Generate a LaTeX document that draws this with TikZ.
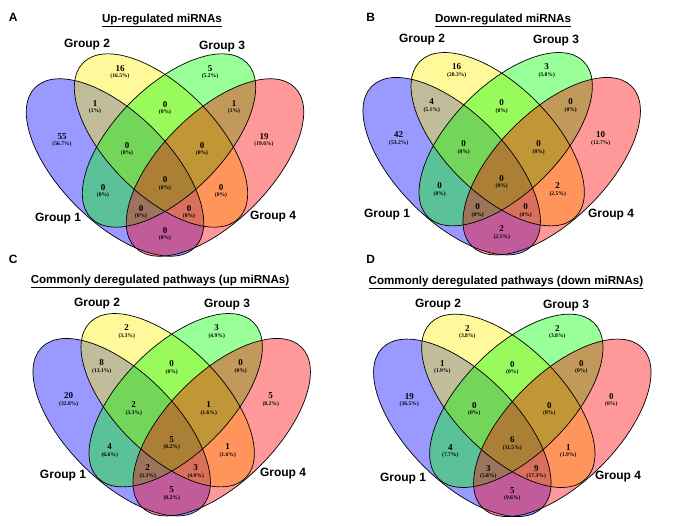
\documentclass[tikz,border=0pt]{standalone}
\usepackage{fontspec}
\setmainfont{Liberation Serif}
\newfontfamily\lsans{Liberation Sans}
\newcommand\pcfont{\fontsize{5.6}{6.5}\selectfont}
\newcommand\vennpanel[4]{%
\begin{scope}[shift={(#2,#3)}]
  \path[ell,fill=blue,  shift={(-50,-44.5)}, rotate=-45] (0,0) ellipse[x radius=113,y radius=54.5];
  \path[ell,fill=yellow,shift={(-4,-71.5)},  rotate=-45] (0,0) ellipse[x radius=110,y radius=54];
  \path[ell,fill=green, shift={(4,-71.5)},   rotate=45]  (0,0) ellipse[x radius=110,y radius=54];
  \path[ell,fill=red,   shift={(50,-44.5)},  rotate=45]  (0,0) ellipse[x radius=113,y radius=54.5];
  \path[edge,shift={(-50,-44.5)}, rotate=-45] (0,0) ellipse[x radius=113,y radius=54.5];
  \path[edge,shift={(-4,-71.5)},  rotate=-45] (0,0) ellipse[x radius=110,y radius=54];
  \path[edge,shift={(4,-71.5)},   rotate=45]  (0,0) ellipse[x radius=110,y radius=54];
  \path[edge,shift={(50,-44.5)},  rotate=45]  (0,0) ellipse[x radius=113,y radius=54.5];
  \coordinate (#1r1) at (-103,-72);
  \coordinate (#1r2) at (-45,-140);
  \coordinate (#1r3) at (45,-140);
  \coordinate (#1r4) at (99,-72);
  \coordinate (#1r5) at (-70,-105);
  \coordinate (#1r6) at (0,-104);
  \coordinate (#1r7) at (69,-105);
  \coordinate (#1r8) at (-38,-63);
  \coordinate (#1r9) at (37,-63);
  \coordinate (#1r10) at (0,-28.5);
  \coordinate (#1r11) at (-62,-21);
  \coordinate (#1r12) at (56,-21);
  \coordinate (#1r13) at (-24,0);
  \coordinate (#1r14) at (24,0);
  \coordinate (#1r15) at (0,22);
  \foreach \r/\c/\p in {#4} {\node[num] (#1\r) at (#1r\r) {\c\\{\pcfont(\p\%)}};}
\end{scope}}
\begin{document}
\begin{tikzpicture}[x=1pt,y=-1pt,
  ell/.style={fill opacity=0.4},
  edge/.style={draw=black, line width=0.7pt},
  num/.style={align=center, inner sep=0pt, font=\fontsize{9}{6.5}\selectfont\bfseries},
  grp/.style={font=\lsans\bfseries\fontsize{12}{12}\selectfont, inner sep=0pt, anchor=base},
  ttl/.style={font=\lsans\bfseries\fontsize{11.6}{12}\selectfont, inner sep=0pt, anchor=base},
  plet/.style={font=\lsans\bfseries\fontsize{12}{12}\selectfont, inner sep=0pt, anchor=base}]
\fill[white] (0,0) rectangle (700,525);
\useasboundingbox (0,0) rectangle (700,525);

% Panel A
\node[plet] (LA) at (13.3,21.3) {A};
\node[ttl] (TA) at (162,22.3) {\underline{Up-regulated miRNAs}};
\vennpanel{A}{165}{212}{1/55/56.7,2/16/16.5,3/5/5.2,4/19/19.6,5/1/1,6/0/0,7/1/1,8/0/0,9/0/0,10/0/0,11/0/0,12/0/0,13/0/0,14/0/0,15/0/0}
\node[grp] (A-g2) at (87,47.5) {Group 2};
\node[grp] (A-g3) at (222,49.5) {Group 3};
\node[grp] (A-g1) at (58,221.5) {Group 1};
\node[grp] (A-g4) at (273,219.5) {Group 4};

% Panel B
\node[plet] (LB) at (370.7,21.3) {B};
\node[ttl] (TB) at (503,22.3) {\underline{Down-regulated miRNAs}};
\vennpanel{B}{501.7}{210.7}{1/42/53.2,2/16/20.3,3/3/3.8,4/10/12.7,5/4/5.1,6/0/0,7/0/0,8/0/0,9/0/0,10/0/0,11/0/0,12/2/2.5,13/0/0,14/0/0,15/2/2.5}
\node[grp] (B-g2) at (422,42.5) {Group 2};
\node[grp] (B-g3) at (556,43.5) {Group 3};
\node[grp] (B-g1) at (387,217.5) {Group 1};
\node[grp] (B-g4) at (611,217.5) {Group 4};

% Panel C
\node[plet] (LC) at (13.3,263.6) {C};
\node[ttl] (TC) at (160,283.3) {\underline{Commonly deregulated pathways (up miRNAs)}};
\vennpanel{C}{171.7}{471.7}{1/20/32.8,2/2/3.3,3/3/4.9,4/5/8.2,5/8/13.1,6/0/0,7/0/0,8/2/3.3,9/1/1.6,10/5/8.2,11/4/6.6,12/1/1.6,13/2/3.3,14/3/4.9,15/5/8.2}
\node[grp] (C-g2) at (97,306.5) {Group 2};
\node[grp] (C-g3) at (227,307.5) {Group 3};
\node[grp] (C-g1) at (63,478.5) {Group 1};
\node[grp] (C-g4) at (283,476.5) {Group 4};

% Panel D
\node[plet] (LD) at (370.7,263.6) {D};
\node[ttl] (TD) at (506,284) {\underline{Commonly deregulated pathways (down miRNAs)}};
\vennpanel{D}{512.3}{472.3}{1/19/36.5,2/2/3.8,3/2/3.8,4/0/0,5/1/1.9,6/0/0,7/0/0,8/0/0,9/0/0,10/6/11.5,11/4/7.7,12/1/1.9,13/3/5.8,14/9/17.3,15/5/9.6}
\node[grp] (D-g2) at (438,307.5) {Group 2};
\node[grp] (D-g3) at (566,308.5) {Group 3};
\node[grp] (D-g1) at (403,481.5) {Group 1};
\node[grp] (D-g4) at (618,479.5) {Group 4};
\end{tikzpicture}
\end{document}
